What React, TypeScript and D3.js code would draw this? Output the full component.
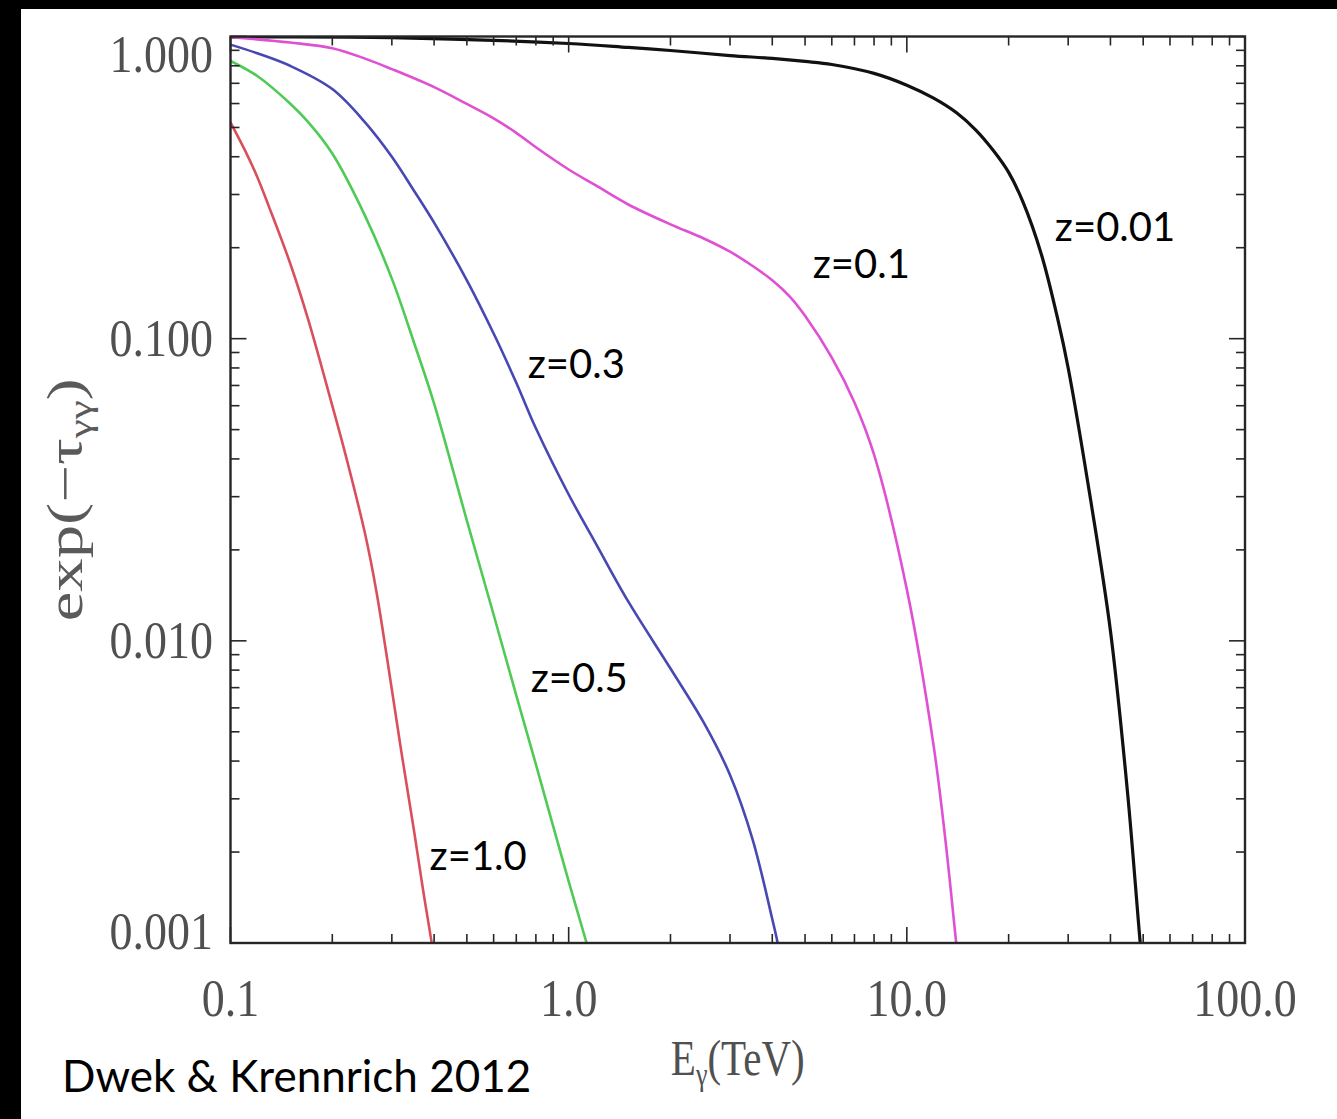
import React from 'react';
import * as d3 from 'd3';

const W = 1337;
const H = 1119;

// Tick labels
const xTickValues = [0.1, 1, 10, 100];
const xTickLabels = ['0.1', '1.0', '10.0', '100.0'];
const yTickValues = [0.001, 0.01, 0.1, 1];
const yTickLabels = ['0.001', '0.010', '0.100', '1.000'];

// Series: photon energy (TeV) and attenuation exp(-tau)
const energyZ001 = [0.1, 0.3, 1.0, 1.5, 2, 3, 4, 5, 6, 8, 10, 12, 14, 16, 18, 20, 22, 25, 28, 30, 35, 40, 45, 49, 50];
const attenZ001 = [0.996, 0.992, 0.948, 0.92, 0.899, 0.865, 0.846, 0.827, 0.808, 0.755, 0.69, 0.625, 0.56, 0.49, 0.42, 0.355, 0.285, 0.19, 0.115, 0.08, 0.029, 0.0108, 0.0031, 0.001, 0.0008];

const energyZ01 = [0.1, 0.15, 0.2, 0.25, 0.3, 0.4, 0.5, 0.6, 0.7, 0.8, 1.0, 1.2, 1.5, 2, 2.5, 3, 3.5, 4, 4.5, 5, 6, 7, 8, 10, 12, 13, 14, 14.5];
const attenZ01 = [0.995, 0.955, 0.915, 0.845, 0.78, 0.68, 0.598, 0.536, 0.48, 0.43, 0.363, 0.322, 0.278, 0.239, 0.215, 0.194, 0.174, 0.156, 0.138, 0.119, 0.0865, 0.0615, 0.0413, 0.0148, 0.0045, 0.0022, 0.001, 0.0007];

const energyZ03 = [0.1, 0.12, 0.15, 0.2, 0.25, 0.3, 0.35, 0.4, 0.5, 0.6, 0.7, 0.8, 1.0, 1.2, 1.5, 2, 2.5, 3, 3.5, 4, 4.15, 4.3];
const attenZ03 = [0.94, 0.88, 0.8, 0.67, 0.52, 0.4, 0.307, 0.242, 0.156, 0.104, 0.0715, 0.0505, 0.0305, 0.0211, 0.0135, 0.0081, 0.0054, 0.0036, 0.0022, 0.0012, 0.001, 0.0008];

const energyZ05 = [0.1, 0.12, 0.15, 0.17, 0.2, 0.25, 0.3, 0.35, 0.4, 0.5, 0.6, 0.7, 0.8, 1.0, 1.13, 1.2];
const attenZ05 = [0.83, 0.74, 0.6, 0.52, 0.41, 0.255, 0.158, 0.096, 0.061, 0.025, 0.0122, 0.0066, 0.0039, 0.0016, 0.001, 0.0008];

const energyZ10 = [0.1, 0.11, 0.12, 0.13, 0.15, 0.17, 0.2, 0.22, 0.25, 0.27, 0.3, 0.32, 0.35, 0.37, 0.4, 0.42];
const attenZ10 = [0.52, 0.423, 0.343, 0.273, 0.178, 0.115, 0.06, 0.0404, 0.0226, 0.0146, 0.0069, 0.0043, 0.0023, 0.00153, 0.00089, 0.0006];

const seriesNames = ['z=0.01', 'z=0.1', 'z=0.3', 'z=0.5', 'z=1.0'];
const seriesColors = ['#111111', '#e050d2', '#4848b4', '#4fcb55', '#d9505c'];
const seriesEnergy = [energyZ001, energyZ01, energyZ03, energyZ05, energyZ10];
const seriesAtten = [attenZ001, attenZ01, attenZ03, attenZ05, attenZ10];

// Curve label anchors in data coordinates
const labelEnergy = [27.4, 5.27, 0.757, 0.772, 0.388];
const labelAtten = [0.21, 0.159, 0.0743, 0.00678, 0.00175];

const caption = 'Dwek & Krennrich 2012';

const plot = { left: 230.5, right: 1245, top: 36.5, bottom: 943 };

export default function App() {
  const x = d3.scaleLog().domain([0.1, 100]).range([plot.left, plot.right]);
  const y = d3.scaleLog().domain([0.001, 1]).range([plot.bottom, plot.top]);

  const line = d3
    .line<[number, number]>()
    .x((d) => x(d[0]))
    .y((d) => y(d[1]))
    .curve(d3.curveCatmullRom.alpha(0.5));

  const xTicks = x.ticks();
  const yTicks = y.ticks();
  const isMajor = (v: number) => Math.abs(Math.log10(v) - Math.round(Math.log10(v))) < 1e-6;
  const majorLen = 16;
  const minorLen = 9;
  const axisColor = '#262626';
  const labelColor = '#505050';
  const serif = '"Liberation Serif", "DejaVu Serif", serif';
  const sans = 'Lato, "Open Sans", sans-serif';

  return (
    <svg
      width={W}
      height={H}
      viewBox={`0 0 ${W} ${H}`}
      style={{ position: 'absolute', left: 0, top: 0, display: 'block', background: '#fff' }}
    >
      <rect x={0} y={0} width={W} height={H} fill="#ffffff" />
      <rect x={0} y={0} width={21} height={H} fill="#000" />
      <rect x={0} y={0} width={W} height={9} fill="#000" />

      <defs>
        <clipPath id="plotClip">
          <rect x={plot.left} y={plot.top} width={plot.right - plot.left} height={plot.bottom - plot.top} />
        </clipPath>
      </defs>

      {/* curves */}
      <g clipPath="url(#plotClip)">
        {seriesNames.map((name, i) => {
          const pts: [number, number][] = seriesEnergy[i].map((e, j) => [e, seriesAtten[i][j]]);
          return (
            <path
              key={name}
              d={line(pts) || ''}
              fill="none"
              stroke={seriesColors[i]}
              strokeWidth={i === 0 ? 3.2 : 2.6}
              strokeLinejoin="round"
            />
          );
        })}
      </g>

      {/* ticks */}
      <g stroke={axisColor} strokeWidth={1.6}>
        {xTicks.map((v, i) => {
          const len = isMajor(v) ? majorLen : minorLen;
          const px = x(v);
          return (
            <g key={'xt' + i}>
              <line x1={px} x2={px} y1={plot.bottom} y2={plot.bottom - len} />
              <line x1={px} x2={px} y1={plot.top} y2={plot.top + len} />
            </g>
          );
        })}
        {yTicks.map((v, i) => {
          const len = isMajor(v) ? majorLen : minorLen;
          const py = y(v);
          return (
            <g key={'yt' + i}>
              <line x1={plot.left} x2={plot.left + len} y1={py} y2={py} />
              <line x1={plot.right} x2={plot.right - len} y1={py} y2={py} />
            </g>
          );
        })}
      </g>

      {/* frame */}
      <rect
        x={plot.left}
        y={plot.top}
        width={plot.right - plot.left}
        height={plot.bottom - plot.top}
        fill="none"
        stroke={axisColor}
        strokeWidth={2.4}
      />

      {/* x tick labels */}
      {xTickValues.map((v, i) => (
        <text
          key={'xl' + i}
          transform={`translate(${x(v)},1016) scale(1,1.15)`}
          textAnchor="middle"
          fontFamily={serif}
          fontSize={46}
          fill={labelColor}
        >
          {xTickLabels[i]}
        </text>
      ))}

      {/* y tick labels */}
      {yTickValues.map((v, i) => {
        const c = Math.max(54, Math.min(931, y(v)));
        return (
          <text
            key={'yl' + i}
            transform={`translate(213,${c + 17.5}) scale(1,1.15)`}
            textAnchor="end"
            fontFamily={serif}
            fontSize={46}
            fill={labelColor}
          >
            {yTickLabels[i]}
          </text>
        );
      })}

      {/* x axis title */}
      <text
        transform={`translate(${(plot.left + plot.right) / 2},1075) scale(1,1.25)`}
        textAnchor="middle"
        fontFamily={serif}
        fontSize={41}
        fill={labelColor}
      >
        E
        <tspan fontSize={26} dy={8}>γ</tspan>
        <tspan dy={-8}>(TeV)</tspan>
      </text>

      {/* y axis title */}
      <text
        transform={`translate(82,${(plot.top + plot.bottom) / 2 + 10}) rotate(-90)`}
        textAnchor="middle"
        fontFamily={serif}
        fontSize={50}
        fill="#5a5a5a"
        textLength={243}
        lengthAdjust="spacingAndGlyphs"
      >
        exp(−τ
        <tspan fontSize={32} dy={9}>γγ</tspan>
        <tspan dy={-9}>)</tspan>
      </text>

      {/* curve labels */}
      {seriesNames.map((name, i) => (
        <text
          key={'lab' + i}
          x={x(labelEnergy[i])}
          y={y(labelAtten[i])}
          fontFamily={sans}
          fontSize={40}
          fill="#000"
        >
          {name}
        </text>
      ))}

      {/* caption */}
      <text x={62} y={1092} fontFamily={sans} fontSize={44} fill="#000">
        {caption}
      </text>
    </svg>
  );
}
